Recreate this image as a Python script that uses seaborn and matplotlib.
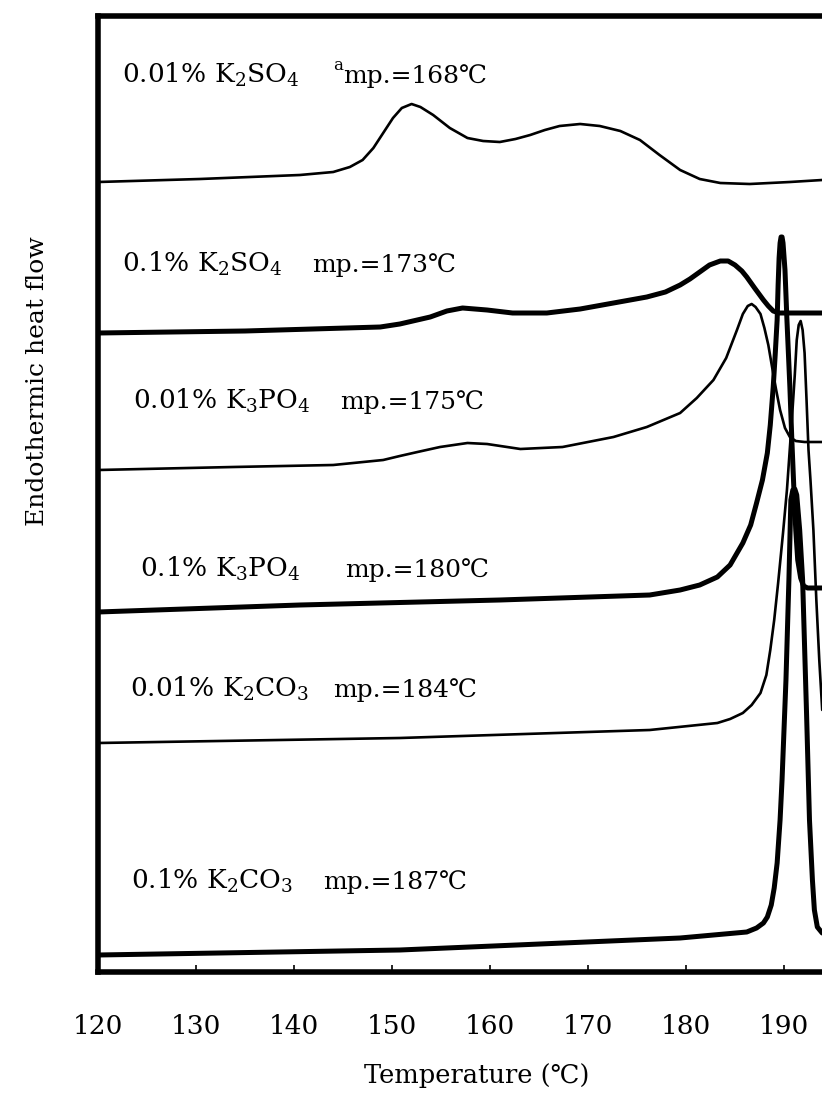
import matplotlib
matplotlib.use("Agg")
import matplotlib.pyplot as plt
import pandas as pd
import seaborn as sns

# DSC traces: temperature (°C) and endothermic heat flow (a.u., curves offset vertically)
t_so4_001 = [120.0, 130.4, 140.6, 144.0, 145.7, 147.0, 148.1, 149.1, 150.1, 151.0, 152.0, 152.9,
             154.2, 155.9, 157.7, 159.3, 161.0, 162.6, 164.1, 165.6, 167.1, 169.2, 171.2, 173.3,
             175.3, 177.3, 179.4, 181.4, 183.5, 186.5, 190.6, 193.9]
hf_so4_001 = [79.0, 79.3, 79.7, 80.0, 80.5, 81.2, 82.4, 83.9, 85.4, 86.4, 86.8, 86.5,
              85.7, 84.4, 83.4, 83.1, 83.0, 83.3, 83.7, 84.2, 84.6, 84.8, 84.6, 84.1,
              83.2, 81.7, 80.2, 79.3, 78.9, 78.8, 79.0, 79.2]

t_so4_01 = [120.0, 135.0, 148.8, 150.8, 153.9, 155.6, 157.2, 159.7, 162.3, 165.8, 169.2, 172.6,
            176.0, 177.9, 179.4, 180.4, 181.4, 182.4, 183.5, 184.3, 185.0, 185.7, 186.2, 187.0,
            187.9, 188.4, 188.9, 189.5, 193.9]
hf_so4_01 = [63.9, 64.1, 64.5, 64.8, 65.5, 66.1, 66.4, 66.2, 65.9, 65.9, 66.3, 66.9,
             67.5, 68.0, 68.7, 69.3, 70.0, 70.7, 71.1, 71.1, 70.7, 70.1, 69.5, 68.4,
             67.2, 66.6, 66.1, 65.9, 65.9]

t_po4_001 = [120.0, 133.8, 144.0, 149.1, 150.8, 152.6, 154.9, 157.7, 159.7, 163.1, 167.4, 172.6,
             176.0, 179.4, 181.1, 182.8, 184.1, 185.2, 185.8, 186.3, 186.7, 187.1, 187.6, 188.0,
             188.4, 188.8, 189.2, 189.6, 190.1, 190.6, 191.2, 192.1, 193.9]
hf_po4_001 = [50.2, 50.5, 50.7, 51.2, 51.6, 52.0, 52.5, 52.9, 52.8, 52.3, 52.5, 53.5,
              54.5, 55.9, 57.4, 59.2, 61.4, 64.2, 65.8, 66.6, 66.8, 66.5, 65.8, 64.4,
              62.7, 60.4, 58.2, 56.2, 54.4, 53.5, 53.1, 53.0, 53.0]

t_po4_01 = [120.0, 140.6, 161.0, 176.3, 179.4, 181.4, 183.2, 184.5, 185.8, 186.6, 187.2, 187.8,
            188.3, 188.6, 188.9, 189.1, 189.3, 189.4, 189.5, 189.6, 189.7, 189.8, 189.9, 190.1,
            190.3, 190.6, 190.8, 191.0, 191.2, 191.4, 191.7, 192.0, 192.4, 193.9]
hf_po4_01 = [36.0, 36.7, 37.2, 37.7, 38.2, 38.7, 39.5, 40.7, 42.9, 44.7, 46.9, 49.2,
             51.9, 54.7, 58.5, 61.7, 65.2, 68.7, 71.4, 72.9, 73.5, 73.5, 72.9, 70.2,
             65.2, 58.5, 53.2, 48.5, 44.2, 41.2, 39.4, 38.6, 38.4, 38.4]

t_co3_001 = [120.0, 150.8, 176.3, 183.2, 184.5, 185.8, 186.7, 187.6, 188.2, 188.6, 189.0, 189.4,
             189.9, 190.3, 190.8, 191.1, 191.3, 191.5, 191.7, 191.9, 192.1, 192.3, 192.5, 192.7,
             193.0, 193.3, 193.6, 193.9]
hf_co3_001 = [22.9, 23.4, 24.2, 24.9, 25.3, 25.9, 26.7, 27.9, 29.7, 32.2, 35.2, 38.9,
              43.9, 48.2, 55.2, 59.7, 63.2, 64.7, 65.1, 64.2, 61.9, 57.2, 52.2, 49.2,
              44.2, 37.2, 31.2, 26.2]

t_co3_01 = [120.0, 150.8, 179.4, 186.2, 187.2, 187.9, 188.3, 188.7, 189.0, 189.3, 189.6, 189.8,
            190.2, 190.5, 190.7, 190.9, 191.1, 191.3, 191.6, 191.9, 192.3, 192.6, 192.9, 193.1,
            193.4, 193.9]
hf_co3_01 = [1.7, 2.2, 3.4, 4.0, 4.4, 4.9, 5.5, 6.7, 8.4, 10.9, 15.2, 19.2,
             29.2, 39.2, 47.2, 48.2, 48.3, 47.7, 44.2, 39.2, 25.9, 15.2, 9.2, 6.2,
             4.5, 3.9]

# sample names, line weights and label text
samples = ["0.01% K2SO4", "0.1% K2SO4", "0.01% K3PO4", "0.1% K3PO4", "0.01% K2CO3", "0.1% K2CO3"]
chem_labels = [r"0.01% K$_2$SO$_4$", r"0.1% K$_2$SO$_4$", r"0.01% K$_3$PO$_4$",
               r"0.1% K$_3$PO$_4$", r"0.01% K$_2$CO$_3$", r"0.1% K$_2$CO$_3$"]
melting_points = [168, 173, 175, 180, 184, 187]
line_widths = [1.9, 3.6, 1.9, 3.6, 1.9, 3.6]
x_ticks = [120, 130, 140, 150, 160, 170, 180, 190]

temps = [t_so4_001, t_so4_01, t_po4_001, t_po4_01, t_co3_001, t_co3_01]
flows = [hf_so4_001, hf_so4_01, hf_po4_001, hf_po4_01, hf_co3_001, hf_co3_01]
df = pd.concat(
    [pd.DataFrame({"Temperature": t, "Heat flow": h, "Sample": s})
     for t, h, s in zip(temps, flows, samples)],
    ignore_index=True,
)

sns.set_theme(style="ticks")
plt.rcParams["font.family"] = ["DejaVu Serif", "Noto Sans CJK JP"]
plt.rcParams["mathtext.fontset"] = "dejavuserif"

W, H = 822, 1096
fig = plt.figure(figsize=(W / 100, H / 100), dpi=100)
fig.patch.set_facecolor("white")

# axes frame in pixel terms: 120 °C at x=98, 9.8 px per °C; the frame runs past the right edge
x0, px_per_deg = 98, 9.8
t_min, t_max = 120, 200
ax_w = (t_max - t_min) * px_per_deg
ax_top, ax_bot = 16, 972
ax = fig.add_axes([x0 / W, 1 - ax_bot / H, ax_w / W, (ax_bot - ax_top) / H])
ax.set_facecolor("white")

for s, lw in zip(samples, line_widths):
    sns.lineplot(data=df[df["Sample"] == s], x="Temperature", y="Heat flow",
                 color="black", linewidth=lw, estimator=None, sort=False, ax=ax,
                 solid_joinstyle="round", solid_capstyle="round")

ax.set_xlim(t_min, t_max)
ax.set_ylim(0, (ax_bot - ax_top) / 10)
ax.set_xticks(x_ticks)
ax.set_xticklabels([str(v) for v in x_ticks])
ax.set_yticks([])
ax.set_xlabel("")
ax.set_ylabel("")
ax.tick_params(axis="x", direction="in", length=5, width=1.2, pad=30, labelsize=19,
               colors="black")
for side in ["left", "top", "bottom", "right"]:
    ax.spines[side].set_linewidth(4)
    ax.spines[side].set_color("black")


def fx(px):
    return px / W


def fy(py):
    return 1 - py / H


# curve annotations: (chemical part x, mp. part x, baseline y)
label_pos = [(122, 343, 83), (122, 312, 272), (133, 340, 409),
             (140, 345, 577), (130, 333, 697), (131, 323, 889)]
for lab, mp, (xc, xm, yb) in zip(chem_labels, melting_points, label_pos):
    fig.text(fx(xc), fy(yb), lab, fontsize=19, ha="left", va="baseline", color="black")
    fig.text(fx(xm), fy(yb), f"mp.={mp}\u2103", fontsize=18, ha="left", va="baseline",
             color="black")
fig.text(fx(333), fy(70), "a", fontsize=12, ha="left", va="baseline", color="black")

fig.text(fx(38), fy(381), "Endothermic heat flow", rotation=90, fontsize=18,
         ha="center", va="center", color="black")
fig.text(fx(477), fy(1076), "Temperature (\u2103)", fontsize=18.5, ha="center", va="center",
         color="black")

fig.savefig("out.png", dpi=100, facecolor="white")
